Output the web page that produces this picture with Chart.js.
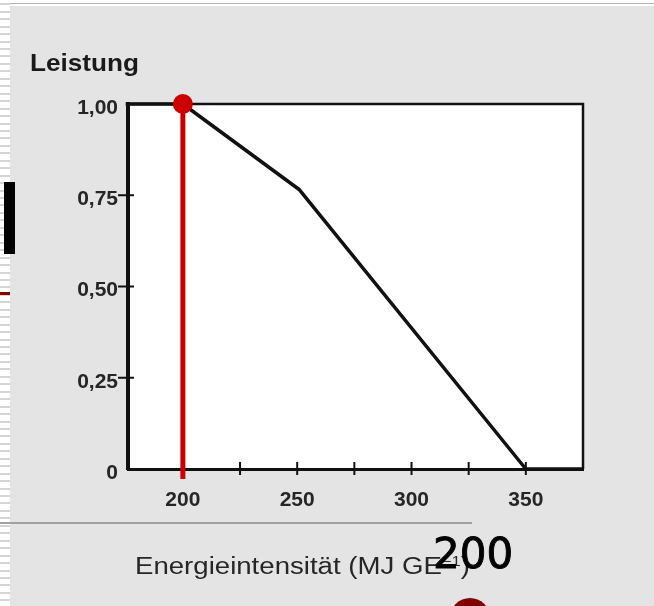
<!DOCTYPE html>
<html lang="de">
<head>
<meta charset="utf-8">
<title>Leistung und Energieintensität</title>
<script src="https://cdn.jsdelivr.net/npm/chart.js@4/dist/chart.umd.min.js"></script>
<style>
  html, body { margin: 0; padding: 0; }
  body { width: 654px; height: 606px; overflow: hidden; background: #e4e4e4; }
  #page { position: relative; width: 654px; height: 606px; overflow: hidden; background: #e4e4e4; }
  .abs { position: absolute; }
  #topband { left: 0; top: 0; width: 654px; height: 6px; background: #fff; }
  #topline { left: 0; top: 3px; width: 654px; height: 1px; background: #b4b4b4; }
  #stripes { left: 0; top: 0; width: 10px; height: 606px;
    background: repeating-linear-gradient(to bottom, #fff 0, #fff 3.3px, #d4d4d4 3.3px, #d4d4d4 5.3px, #fff 5.3px, #fff 7.45px); }
  #blackbar { left: 4px; top: 182px; width: 11px; height: 72px; background: #000; }
  #redtick { left: 0; top: 292px; width: 10px; height: 2.5px; background: #8b0000; }
  #rule { left: 0; top: 522px; width: 472px; height: 1.5px; background: #a0a0a0; }
  #chart { left: 0; top: 0; }
  .title { font-family: 'Liberation Sans', Arial, sans-serif; line-height: 1; white-space: nowrap; transform-origin: 0 0; }
  #ytitle { left: 30px; top: 51px; font-size: 24px; font-weight: bold; color: #1a1a1a; }
  #xtitle { left: 135px; top: 555px; font-size: 23px; color: #262626; }
  #xtitle sup { font-size: 60%; line-height: 0; vertical-align: 0.6em; }
  #value { left: 433px; top: 533px; font-family: 'DejaVu Sans', sans-serif; font-size: 42px; line-height: 1; color: #000;
    -webkit-text-stroke: 0.9px #000; }
  #bulb { left: 450px; top: 598px; width: 40px; height: 40px; border-radius: 50%; background: #800000; }
</style>
</head>
<body>
<div id="page">
  <div id="topband" class="abs"></div>
  <div id="topline" class="abs"></div>
  <div id="stripes" class="abs"></div>
  <div id="blackbar" class="abs"></div>
  <div id="redtick" class="abs"></div>
  <div id="rule" class="abs"></div>
  <canvas id="chart" class="abs" width="654" height="606"></canvas>
  <div id="ytitle" class="abs title">Leistung</div>
  <div id="xtitle" class="abs title">Energieintensität (MJ GE<sup>−1</sup>)</div>
  <div id="value" class="abs"></div>
  <div id="bulb" class="abs"></div>
</div>
<script>
// Performance curve: relative performance against energy intensity
const energy = [175, 200, 251, 350, 375];
const performance = [1, 1, 0.765, 0, 0];

// Selected operating point
const markerEnergy = 200;
const markerPerformance = 1;

// Axis ticks and their labels
const xTickValues = [200, 225, 250, 275, 300, 325, 350];
const xTickLabels = ['200', '', '250', '', '300', '', '350'];
const yTickValues = [0, 0.25, 0.5, 0.75, 1];
const yTickLabels = ['0', '0,25', '0,50', '0,75', '1,00'];

const INK = '#111';
const RED = '#cc0000';
const tickFont = { family: "'Liberation Sans', Arial, sans-serif", size: 21, weight: 'bold' };

// White plot area, top/right frame, crossing tick marks and the drop line of the marker
const plotFrame = {
  id: 'plotFrame',
  beforeDraw(chart) {
    const { ctx, chartArea: a } = chart;
    ctx.save();
    ctx.fillStyle = '#fff';
    ctx.fillRect(a.left, a.top, a.right - a.left, a.bottom - a.top);
    ctx.restore();
  },
  beforeDatasetsDraw(chart) {
    const { ctx, chartArea: a, scales: { x, y } } = chart;
    ctx.save();
    ctx.strokeStyle = INK;
    ctx.lineWidth = 2.5;
    ctx.beginPath();
    ctx.moveTo(a.left, a.top);
    ctx.lineTo(a.right, a.top);
    ctx.lineTo(a.right, a.bottom);
    ctx.stroke();

    ctx.lineWidth = 2;
    xTickValues.forEach(v => {
      const px = x.getPixelForValue(v);
      ctx.beginPath();
      ctx.moveTo(px, a.bottom - 7);
      ctx.lineTo(px, a.bottom + 6);
      ctx.stroke();
    });
    yTickValues.filter(v => v > y.min && v < y.max).forEach(v => {
      const py = y.getPixelForValue(v);
      ctx.beginPath();
      ctx.moveTo(a.left - 10, py);
      ctx.lineTo(a.left + 6, py);
      ctx.stroke();
    });

    const mx = x.getPixelForValue(markerEnergy);
    ctx.strokeStyle = RED;
    ctx.lineWidth = 5;
    ctx.beginPath();
    ctx.moveTo(mx, y.getPixelForValue(markerPerformance));
    ctx.lineTo(mx, a.bottom + 10);
    ctx.stroke();
    ctx.restore();
  }
};

new Chart(document.getElementById('chart'), {
  type: 'scatter',
  data: {
    datasets: [
      {
        label: 'Arbeitspunkt',
        data: [{ x: markerEnergy, y: markerPerformance }],
        pointRadius: 10,
        pointHoverRadius: 10,
        pointBackgroundColor: RED,
        pointBorderWidth: 0,
        showLine: false,
        clip: false,
        order: 0
      },
      {
        label: 'Leistung',
        data: energy.map((e, i) => ({ x: e, y: performance[i] })),
        showLine: true,
        borderColor: INK,
        borderWidth: 3.5,
        borderJoinStyle: 'round',
        pointRadius: 0,
        tension: 0,
        clip: false,
        order: 1
      }
    ]
  },
  options: {
    responsive: false,
    devicePixelRatio: 1,
    animation: false,
    events: [],
    layout: { padding: { left: 0, top: 104, right: 71, bottom: 77 } },
    plugins: { legend: { display: false }, tooltip: { enabled: false } },
    scales: {
      x: {
        type: 'linear',
        min: 176,
        max: 375,
        grid: { display: false, drawTicks: false },
        border: { display: true, color: INK, width: 3 },
        afterBuildTicks: s => { s.ticks = xTickValues.map(v => ({ value: v })); },
        afterFit: s => { s.height = 60; },
        ticks: {
          autoSkip: false,
          maxRotation: 0,
          padding: 19,
          color: '#262626',
          font: tickFont,
          callback: v => xTickLabels[xTickValues.indexOf(v)] ?? ''
        }
      },
      y: {
        type: 'linear',
        min: 0,
        max: 1,
        grid: { display: false, drawTicks: false },
        border: { display: true, color: INK, width: 4 },
        afterBuildTicks: s => { s.ticks = yTickValues.map(v => ({ value: v })); },
        afterFit: s => { s.width = 128; },
        ticks: {
          autoSkip: false,
          padding: 10,
          labelOffset: 4,
          color: '#262626',
          font: tickFont,
          callback: v => yTickLabels[yTickValues.indexOf(v)] ?? ''
        }
      }
    }
  },
  plugins: [plotFrame]
});

// The callout shows the marker's energy value
document.getElementById('value').textContent = String(markerEnergy);

// Stretch the axis titles to their set widths
function fitWidth(id, width) {
  const el = document.getElementById(id);
  const w = el.getBoundingClientRect().width;
  if (w > 0) el.style.transform = 'scaleX(' + (width / w).toFixed(3) + ')';
}
fitWidth('ytitle', 109);
fitWidth('xtitle', 335);
</script>
</body>
</html>
